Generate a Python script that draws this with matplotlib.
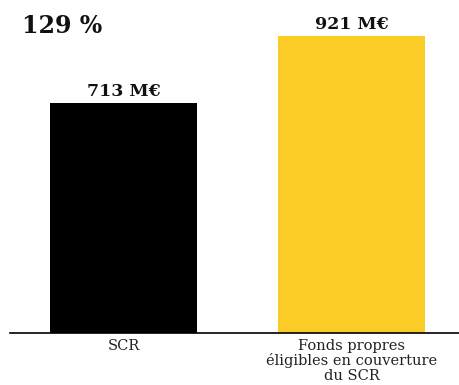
import matplotlib
matplotlib.use("Agg")
import matplotlib.pyplot as plt

# --- Data ---
categories = ["SCR", "Fonds propres\néligibles en couverture\ndu SCR"]
values = [713, 921]
value_labels = ["713 M€", "921 M€"]
ratio_label = "129 %"
colors = ["#000000", "#FCCC26"]

plt.rcParams["font.family"] = ["DejaVu Serif"]

fig = plt.figure(figsize=(4.6, 3.85), dpi=100)
ax = fig.add_axes([10 / 460, 52 / 385, 450 / 460, 333 / 385])

x = range(len(categories))
bars = ax.bar(x, values, width=0.645, color=colors)

ax.set_xlim(-0.498, 1.476)
ax.set_ylim(0, 333 / (230 / 713))

for bar, lab in zip(bars, value_labels):
    ax.annotate(lab, (bar.get_x() + bar.get_width() / 2, bar.get_height()),
                xytext=(0, 5), textcoords="offset points",
                ha="center", va="baseline", fontsize=12.5, fontweight="bold",
                color="#111111")

for side in ["top", "right", "left"]:
    ax.spines[side].set_visible(False)
ax.spines["bottom"].set_linewidth(1.2)
ax.set_yticks([])
ax.set_xticks(list(x))
ax.set_xticklabels(categories, fontsize=10.5, color="#222222", linespacing=1.05)
ax.tick_params(axis="x", length=0, pad=4)

fig.text(22 / 460, 1 - 33 / 385, ratio_label, fontsize=17, fontweight="bold",
         ha="left", va="baseline", color="#111111")

fig.savefig("out.png", dpi=100)
plt.close()
